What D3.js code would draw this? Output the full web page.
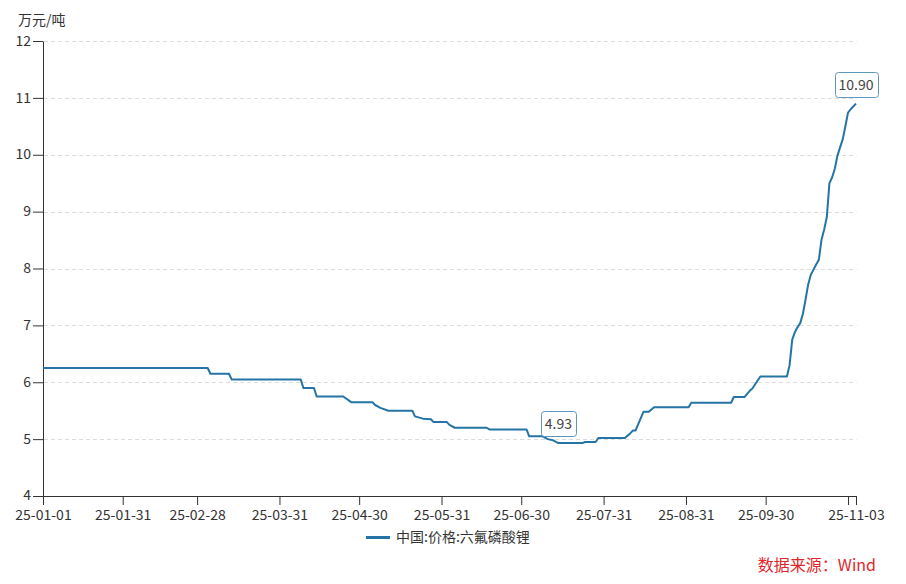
<!DOCTYPE html>
<html><head><meta charset="utf-8">
<script src="https://cdn.jsdelivr.net/npm/d3@7"></script>
<style>
html,body{margin:0;padding:0;background:#fff;}
svg{display:block;font-family:"Noto Sans CJK SC","Noto Sans",sans-serif;}
</style></head>
<body><svg id="c" width="906" height="584"></svg>
<script>
// ---- data ----
const dates = [
"2025-01-01","2025-03-04","2025-03-05","2025-03-12","2025-03-13","2025-04-08","2025-04-09","2025-04-13",
"2025-04-14","2025-04-24","2025-04-27","2025-05-05","2025-05-06","2025-05-08","2025-05-11","2025-05-20",
"2025-05-21","2025-05-24","2025-05-27","2025-05-28","2025-06-02","2025-06-03","2025-06-05","2025-06-17",
"2025-06-18","2025-07-02","2025-07-03","2025-07-08","2025-07-10","2025-07-12","2025-07-14","2025-07-23",
"2025-07-24","2025-07-28","2025-07-29","2025-08-08","2025-08-10","2025-08-11","2025-08-12","2025-08-15",
"2025-08-17","2025-08-19","2025-09-01","2025-09-02","2025-09-17","2025-09-18","2025-09-22","2025-09-24",
"2025-09-25","2025-09-28","2025-10-08","2025-10-09","2025-10-10","2025-10-11","2025-10-12","2025-10-13",
"2025-10-14","2025-10-15","2025-10-16","2025-10-17","2025-10-18","2025-10-19","2025-10-20","2025-10-21",
"2025-10-22","2025-10-23","2025-10-24","2025-10-25","2025-10-26","2025-10-27","2025-10-28","2025-10-29",
"2025-10-30","2025-10-31","2025-11-01","2025-11-02","2025-11-03"];
const prices = [
6.25,6.25,6.15,6.15,6.05,6.05,5.90,5.90,
5.75,5.75,5.65,5.65,5.60,5.55,5.50,5.50,
5.40,5.36,5.35,5.30,5.30,5.25,5.20,5.20,
5.17,5.17,5.05,5.05,5.00,4.98,4.93,4.93,
4.95,4.95,5.02,5.02,5.10,5.15,5.15,5.48,
5.48,5.56,5.56,5.64,5.64,5.74,5.74,5.85,
5.89,6.10,6.10,6.30,6.75,6.88,6.97,7.04,
7.20,7.45,7.72,7.89,7.98,8.07,8.15,8.50,
8.68,8.90,9.50,9.60,9.75,9.98,10.13,10.27,
10.50,10.74,10.80,10.85,10.90];
const seriesName = "中国:价格:六氟磷酸锂";
const unitLabel = "万元/吨";
const sourceText = "数据来源：Wind";
const yTicks = [4,5,6,7,8,9,10,11,12];
const xTickDates = ["2025-01-01","2025-01-31","2025-02-28","2025-03-31","2025-04-30","2025-05-31",
  "2025-06-30","2025-07-31","2025-08-31","2025-09-30","2025-10-31","2025-11-03"];
const xTickLabels = ["25-01-01","25-01-31","25-02-28","25-03-31","25-04-30","25-05-31",
  "25-06-30","25-07-31","25-08-31","25-09-30","","25-11-03"];
const markers = [{date:"2025-07-14", value:4.93, label:"4.93"},{date:"2025-11-03", value:10.90, label:"10.90"}];

// ---- layout ----
const parse = d3.timeParse("%Y-%m-%d");
const L = 43, T = 41, W = 813, H = 455;
const lineColor = "#2474a6";
const svg = d3.select("#c");
const x = d3.scaleTime().domain([parse("2025-01-01"), parse("2025-11-03")]).range([0, W]);
const y = d3.scaleLinear().domain([4, 12]).range([H, 0]);
const g = svg.append("g").attr("transform", `translate(${L},${T})`);

// grid
g.append("g").selectAll("line").data(yTicks.filter(v => v > 4)).join("line")
  .attr("x1", 1).attr("x2", W + 0.5)
  .attr("y1", d => Math.round(y(d)) + 0.5).attr("y2", d => Math.round(y(d)) + 0.5)
  .attr("stroke", "#dcdcdc").attr("stroke-dasharray", "4,3");

// axes
const xa = g.append("g").attr("transform", `translate(0,${H})`)
  .call(d3.axisBottom(x).tickValues(xTickDates.map(parse))
    .tickFormat((d, i) => xTickLabels[i]).tickSize(9).tickSizeOuter(0).tickPadding(5));
const ya = g.append("g")
  .call(d3.axisLeft(y).tickValues(yTicks).tickFormat(d3.format("d")).tickSize(10).tickSizeOuter(0).tickPadding(2));
[xa, ya].forEach(a => {
  a.selectAll("path,line").attr("stroke", "#333");
  a.selectAll("text").attr("fill", "#333").style("font-size", "14px")
   .style("font-family", '"Noto Sans CJK SC","Noto Sans",sans-serif');
});
ya.selectAll("text").attr("dy", d => d === 4 ? "0.22em" : "0.3em");

// line
const data = dates.map((d, i) => ({date: parse(d), value: prices[i]}));
g.append("path").datum(data)
  .attr("fill", "none").attr("stroke", lineColor).attr("stroke-width", 2)
  .attr("stroke-linejoin", "round")
  .attr("d", d3.line().x(d => x(d.date)).y(d => y(d.value)));

// value labels
markers.forEach(m => {
  const cx = x(parse(m.date)), cy = y(m.value);
  const mg = g.append("g");
  const t = mg.append("text").attr("x", cx).attr("y", cy - 14).attr("text-anchor", "middle")
    .style("font-size", "14px").attr("fill", "#444").text(m.label);
  const bb = t.node().getBBox();
  mg.insert("rect", "text").attr("x", Math.round(bb.x - 4) + 0.5).attr("y", Math.round(cy - 32) + 0.5)
    .attr("width", Math.round(bb.width + 8)).attr("height", 25).attr("rx", 3)
    .attr("fill", "#fff").attr("stroke", "#5f98bf").attr("stroke-width", 1);
});

// unit label
svg.append("text").attr("x", 18).attr("y", 25).style("font-size", "14px").attr("fill", "#333").text(unitLabel);

// legend
const lg = svg.append("g").attr("transform", "translate(366,537)");
lg.append("line").attr("x1", 0).attr("x2", 24).attr("y1", 0.5).attr("y2", 0.5)
  .attr("stroke", lineColor).attr("stroke-width", 3);
lg.append("text").attr("x", 30).attr("y", 5).style("font-size", "14px").attr("fill", "#333").text(seriesName);

// source
svg.append("text").attr("x", 876).attr("y", 571).attr("text-anchor", "end")
  .style("font-size", "16px").attr("fill", "#e0262b").text(sourceText);
</script></body></html>
